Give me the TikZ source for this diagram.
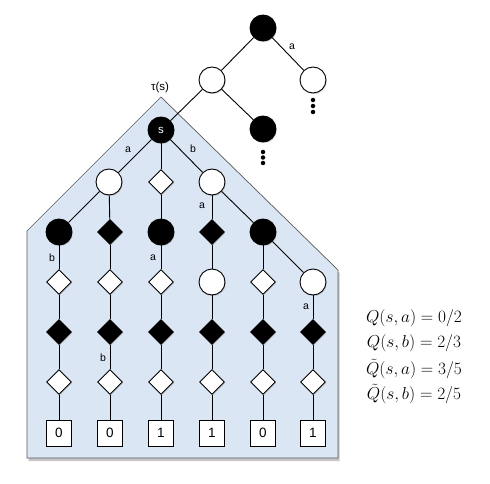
\documentclass[tikz,border=0pt]{standalone}
\usepackage{fontspec}
\setmainfont{Liberation Sans}
\usetikzlibrary{shapes.geometric,shadows}
\definecolor{panebg}{HTML}{DBE6F5}
\tikzset{
  sh/.style={drop shadow={shadow xshift=0.8pt,shadow yshift=-1.2pt,opacity=0.3}},
  wc/.style={circle,draw,fill=white,line width=0.9pt,minimum size=26pt,inner sep=0pt,sh},
  bc/.style={circle,draw,fill=black,line width=0.9pt,minimum size=26pt,inner sep=0pt,sh},
  wd/.style={diamond,draw,fill=white,line width=0.9pt,minimum width=25pt,minimum height=25pt,inner sep=0pt,sh},
  bd/.style={diamond,draw,fill=black,line width=0.9pt,minimum width=25pt,minimum height=25pt,inner sep=0pt,sh},
  sq/.style={rectangle,draw,fill=white,line width=0.9pt,minimum width=25pt,minimum height=26pt,inner sep=0pt,font=\fontsize{13.5}{15}\selectfont,sh},
  dot/.style={circle,fill=black,minimum size=4.5pt,inner sep=0pt},
  lab/.style={font=\fontsize{10.5}{12}\selectfont,inner sep=0pt},
  eq/.style={font=\fontsize{17.5}{19}\selectfont,inner sep=0pt},
  edge/.style={line width=0.9pt},
}
\begin{document}
\begin{tikzpicture}[x=1pt,y=-1pt]
\useasboundingbox (0,0) rectangle (490,484);
% pane
\path[draw=black!65,line width=0.7pt,fill=panebg,
  drop shadow={shadow xshift=1.5pt,shadow yshift=-3pt,opacity=0.45}]
  (161,97) -- (338,270) -- (338,458) -- (27,458) -- (27,231) -- cycle;
\node[lab,font=\fontsize{11.5}{13}\selectfont] (tau) at (160,88) {τ(s)};
% upper tree
\node[bc] (r) at (263,28) {};
\node[wc] (u1) at (212,80) {};
\node[wc] (u2) at (313,80) {};
\node[bc] (u3) at (263,129) {};
\node[bc,font=\fontsize{11.5}{13}\selectfont\color{white}] (s) at (161,130) {s};
\foreach \i/\y in {1/152,2/157.5,3/163} \node[dot] (da\i) at (263,\y) {};
\foreach \i/\y in {1/100,2/106,3/112} \node[dot] (db\i) at (313,\y) {};
% level 2
\node[wc] (a1) at (109,182) {};
\node[wd] (a2) at (161,182) {};
\node[wc] (a3) at (212,182) {};
% level 3
\node[bc] (b1) at (59,232) {};
\node[bd] (b2) at (110,232) {};
\node[bc] (b3) at (161,232) {};
\node[bd] (b4) at (212,232) {};
\node[bc] (b5) at (263,232) {};
% level 4
\node[wd] (c1) at (59,282) {};
\node[wd] (c2) at (110,282) {};
\node[wd] (c3) at (161,282) {};
\node[wc] (c4) at (212,282) {};
\node[wd] (c5) at (263,282) {};
\node[wc] (c6) at (313,282) {};
% level 5,6,7
\foreach \i/\x/\v in {1/59/0,2/110/0,3/161/1,4/212/1,5/263/0,6/313/1}{
  \node[bd] (e\i) at (\x,332) {};
  \node[wd] (f\i) at (\x,382) {};
  \node[sq] (g\i) at (\x,433) {\v};
}
% edges
\draw[edge] (r) -- (u1); \draw[edge] (r) -- (u2);
\draw[edge] (u1) -- (s); \draw[edge] (u1) -- (u3);
\draw[edge] (s) -- (a1); \draw[edge] (s) -- (a2); \draw[edge] (s) -- (a3);
\draw[edge] (a1) -- (b1); \draw[edge] (a1) -- (b2);
\draw[edge] (a2) -- (b3);
\draw[edge] (a3) -- (b4); \draw[edge] (a3) -- (b5);
\draw[edge] (b1) -- (c1); \draw[edge] (b2) -- (c2); \draw[edge] (b3) -- (c3);
\draw[edge] (b4) -- (c4); \draw[edge] (b5) -- (c5); \draw[edge] (b5) -- (c6);
\foreach \i in {1,...,6}{
  \draw[edge] (c\i) -- (e\i);
  \draw[edge] (e\i) -- (f\i);
  \draw[edge] (f\i) -- (g\i);
}
% labels
\node[lab] (l1) at (292,47) {a};
\node[lab] (l2) at (128,150) {a};
\node[lab] (l3) at (193,149) {b};
\node[lab] (l4) at (202,206) {a};
\node[lab] (l5) at (52,258) {b};
\node[lab] (l6) at (153,258) {a};
\node[lab] (l7) at (306,307) {a};
\node[lab] (l8) at (103,358) {b};
% equations
\node[eq] (q1) at (414,318) {$Q(s,a)=0/2$};
\node[eq] (q2) at (414,343) {$Q(s,b)=2/3$};
\node[eq] (q3) at (414,369) {$\tilde{Q}(s,a)=3/5$};
\node[eq] (q4) at (414,394) {$\tilde{Q}(s,b)=2/5$};
\end{tikzpicture}
\end{document}
